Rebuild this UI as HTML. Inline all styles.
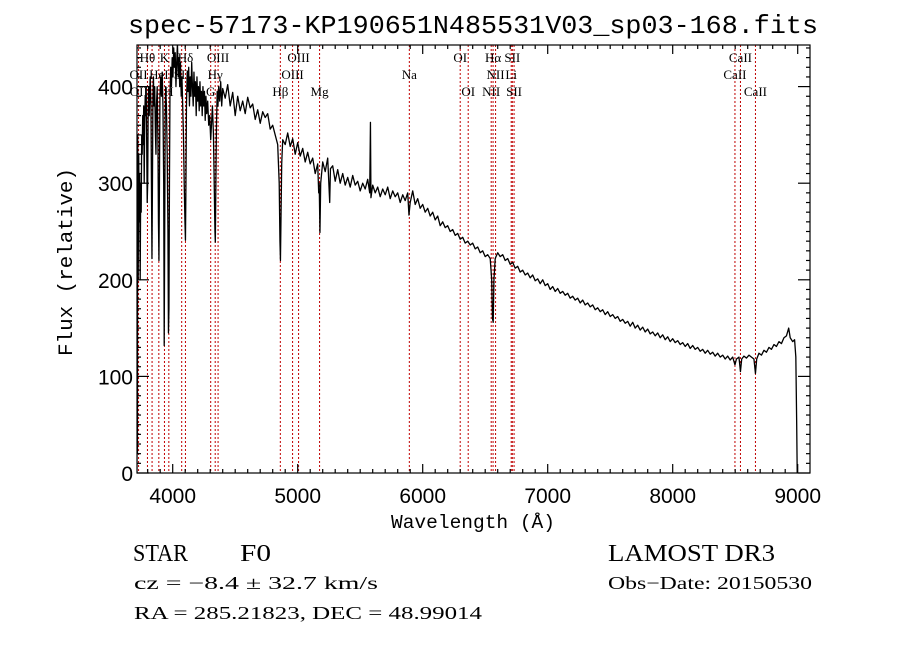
<!DOCTYPE html>
<html><head><meta charset="utf-8">
<style>
html,body{margin:0;padding:0;background:#fff;}
svg{display:block;}
</style></head>
<body>
<svg id="chart" width="900" height="649" viewBox="0 0 900 649" xmlns="http://www.w3.org/2000/svg">
<defs><clipPath id="plotclip"><rect x="137" y="45" width="673" height="428"/></clipPath></defs>
<rect x="0" y="0" width="900" height="649" fill="#fff"/>
<text x="473" y="33" font-family="Liberation Mono, monospace" font-size="26" text-anchor="middle" textLength="690" lengthAdjust="spacingAndGlyphs">spec-57173-KP190651N485531V03_sp03-168.fits</text>
<g id="lines"></g>
<g id="labels"></g>
<g id="spec" clip-path="url(#plotclip)"></g>
<g id="axes"></g>
<text x="473" y="528" font-family="Liberation Mono, monospace" font-size="19" text-anchor="middle" textLength="164" lengthAdjust="spacingAndGlyphs">Wavelength (Å)</text>
<text x="0" y="0" transform="translate(72,262) rotate(-90)" font-family="Liberation Mono, monospace" font-size="20" text-anchor="middle" textLength="188" lengthAdjust="spacingAndGlyphs">Flux (relative)</text>
<text x="133" y="561" font-family="Liberation Serif, serif" font-size="24" textLength="55" lengthAdjust="spacingAndGlyphs">STAR</text>
<text x="240" y="561" font-family="Liberation Serif, serif" font-size="24" textLength="31" lengthAdjust="spacingAndGlyphs">F0</text>
<text x="608" y="561" font-family="Liberation Serif, serif" font-size="24" textLength="167" lengthAdjust="spacingAndGlyphs">LAMOST DR3</text>
<text x="134" y="589" font-family="Liberation Serif, serif" font-size="18" textLength="244" lengthAdjust="spacingAndGlyphs">cz = −8.4 ± 32.7 km/s</text>
<text x="608" y="589" font-family="Liberation Serif, serif" font-size="18" textLength="204" lengthAdjust="spacingAndGlyphs">Obs−Date: 20150530</text>
<text x="134" y="619" font-family="Liberation Serif, serif" font-size="18" textLength="348" lengthAdjust="spacingAndGlyphs">RA = 285.21823, DEC =  48.99014</text>
</svg>
<script>
const waves = [3714,3716,3718,3720,3724,3728,3732,3736,3740,3744,3748,3752,3756,3760,3764,3768,3772,3776,3780,3784,3788,3792,3796,3800,3804,3808,3812,3816,3820,3826,3830,3834,3838,3842,3846,3850,3856,3862,3866,3870,3876,3882,3886,3890,3894,3898,3904,3910,3916,3922,3928,3932,3936,3940,3944,3950,3956,3962,3966,3970,3974,3978,3984,3990,3996,4002,4008,4014,4020,4026,4032,4038,4044,4050,4056,4062,4068,4074,4080,4086,4092,4098,4102,4106,4110,4116,4122,4128,4134,4140,4146,4152,4158,4164,4170,4176,4182,4188,4194,4200,4206,4212,4218,4224,4230,4236,4242,4248,4254,4260,4266,4272,4280,4288,4296,4304,4310,4318,4326,4332,4338,4341,4344,4350,4356,4362,4368,4376,4384,4392,4400,4420,4440,4460,4480,4500,4520,4540,4560,4580,4600,4620,4640,4660,4680,4700,4720,4740,4760,4780,4800,4820,4840,4852,4858,4862,4866,4872,4880,4900,4920,4940,4960,4980,5000,5020,5040,5060,5080,5100,5120,5140,5160,5168,5172,5178,5184,5200,5220,5240,5256,5262,5280,5300,5320,5340,5360,5380,5400,5420,5440,5460,5480,5500,5520,5540,5560,5576,5582,5586,5600,5620,5640,5660,5680,5700,5720,5740,5760,5780,5800,5820,5840,5860,5880,5890,5900,5920,5940,5960,5980,6000,6020,6040,6060,6080,6100,6120,6140,6160,6180,6200,6220,6240,6260,6280,6300,6320,6340,6360,6380,6400,6420,6440,6460,6480,6500,6520,6540,6552,6558,6564,6570,6580,6600,6620,6640,6660,6680,6700,6720,6740,6760,6780,6800,6820,6840,6860,6880,6900,6920,6940,6960,6980,7000,7020,7040,7060,7080,7100,7120,7140,7160,7180,7200,7220,7240,7260,7280,7300,7320,7340,7360,7380,7400,7420,7440,7460,7480,7500,7520,7540,7560,7580,7600,7620,7640,7660,7680,7700,7720,7740,7760,7780,7800,7820,7840,7860,7880,7900,7920,7940,7960,7980,8000,8020,8040,8060,8080,8100,8120,8140,8160,8180,8200,8220,8240,8260,8280,8300,8320,8340,8360,8380,8400,8420,8440,8460,8480,8498,8510,8530,8542,8552,8570,8590,8610,8630,8650,8662,8672,8690,8710,8730,8750,8770,8790,8810,8830,8850,8870,8890,8910,8928,8940,8960,8975,8985,8992,8996];
const fluxes = [0,150,20,350,200,330,260,310,200,300,270,350,330,370,340,380,300,360,390,370,400,340,280,300,380,400,370,390,410,380,300,222,300,390,410,380,400,350,330,380,400,340,260,220,300,390,410,390,415,380,300,132,250,370,400,380,330,250,145,170,300,390,420,400,430,410,440,420,435,400,425,445,410,430,400,425,390,410,380,350,300,260,241,300,380,415,395,420,380,410,390,425,400,380,415,390,405,370,410,385,400,375,405,380,395,370,400,380,395,365,390,372,385,360,370,345,360,380,350,300,250,239,280,360,395,380,400,385,405,380,398,388,402,380,394,370,390,375,385,372,389,378,382,366,376,362,374,368,372,356,360,350,340,300,240,220,260,320,345,340,352,338,346,330,342,328,336,322,332,320,326,310,320,290,300,249,300,322,312,326,280,315,318,302,314,300,310,298,306,296,308,298,302,292,300,294,304,290,363,285,298,290,296,286,294,288,296,284,292,286,290,280,288,282,290,267,280,292,278,284,274,278,270,274,266,270,262,266,256,260,254,256,250,252,246,248,242,244,238,240,236,238,232,234,228,230,224,226,222,200,160,156,200,222,228,224,226,220,222,216,218,212,214,208,210,205,207,202,205,199,201,196,200,194,196,190,193,188,191,186,188,184,186,181,183,179,181,176,179,174,176,172,174,169,171,167,169,164,167,162,164,160,162,157,159,155,157,152,156,150,153,148,151,146,149,144,146,142,145,140,143,138,141,136,139,135,137,133,135,131,134,129,132,128,130,126,128,124,127,123,125,121,124,120,122,118,121,117,120,112,118,120,105,118,121,119,122,120,118,103,118,124,122,127,125,130,128,133,131,136,134,140,142,150,140,136,138,120,50,0];
const lineWaves = [3727,3798,3835,3889,3934,3969,4072,4102,4304,4340,4363,4861,4959,5007,5175,5893,6300,6364,6548,6563,6583,6708,6717,6731,8498,8542,8662];
const labelNames = ["OII","Hθ","HeI","K","H","SII","Hδ","G","Hγ","OIII","Hβ","OIII","OIII","Mg","Na","OI","OI","NII","Hα","NII","Li","SII","SII","CaII","CaII","CaII","OII"];
const labelWaves = [3727,3798,3889,3934,3969,4072,4102,4304,4340,4363,4861,4959,5007,5175,5893,6300,6364,6548,6563,6583,6708,6717,6731,8498,8542,8662,3729];
const labelRows = [2,1,2,1,3,2,1,3,2,1,3,2,1,3,2,1,3,3,1,2,2,1,3,2,1,3,3];
const xTickLabels = ["4000","5000","6000","7000","8000","9000"];
const yTickLabels = ["0","100","200","300","400"];

const NS = "http://www.w3.org/2000/svg";
const PL = 137, PR = 810, PT = 45, PB = 473;
function xScale(w){ return 172.7 + (w - 4000) * 0.125; }
function yScale(v){ return 473 - v * 0.966; }
const X0 = 4000 - (172.7 - PL) / 0.125, X1 = 4000 + (PR - 172.7) / 0.125;

const gLines = document.getElementById('lines');
lineWaves.forEach(w => {
  const l = document.createElementNS(NS, 'line');
  const x = xScale(w);
  l.setAttribute('x1', x); l.setAttribute('x2', x);
  l.setAttribute('y1', PT); l.setAttribute('y2', PB);
  l.setAttribute('stroke', '#c00000'); l.setAttribute('stroke-width', '1');
  l.setAttribute('stroke-dasharray', '2,2');
  
  
  gLines.appendChild(l);
});

const gLabels = document.getElementById('labels');
const rowY = {1: 62, 2: 79, 3: 96};
labelNames.forEach((n, i) => {
  const t = document.createElementNS(NS, 'text');
  t.setAttribute('x', xScale(labelWaves[i]));
  t.setAttribute('y', rowY[labelRows[i]]);
  t.setAttribute('text-anchor', 'middle');
  t.setAttribute('font-family', 'Liberation Serif, serif');
  t.setAttribute('font-size', '13');
  t.textContent = n;
  
  
  gLabels.appendChild(t);
});

const gSpec = document.getElementById('spec');
let d = '';
waves.forEach((w, i) => { d += (i ? 'L' : 'M') + xScale(w).toFixed(2) + ',' + yScale(fluxes[i]).toFixed(2); });
const p = document.createElementNS(NS, 'path');
p.setAttribute('d', d);
p.setAttribute('fill', 'none'); p.setAttribute('stroke', '#000'); p.setAttribute('stroke-width', '1.3');
p.setAttribute('stroke-linejoin', 'round');


gSpec.appendChild(p);

const gAxes = document.getElementById('axes');
function addLine(x1, y1, x2, y2, name){
  const l = document.createElementNS(NS, 'line');
  l.setAttribute('x1', x1); l.setAttribute('y1', y1); l.setAttribute('x2', x2); l.setAttribute('y2', y2);
  l.setAttribute('stroke', '#000'); l.setAttribute('stroke-width', '1.2');
  
  
  gAxes.appendChild(l);
}
const box = document.createElementNS(NS, 'rect');
box.setAttribute('x', PL); box.setAttribute('y', PT); box.setAttribute('width', PR - PL); box.setAttribute('height', PB - PT);
box.setAttribute('fill', 'none'); box.setAttribute('stroke', '#000'); box.setAttribute('stroke-width', '1.2');


gAxes.appendChild(box);

for (let w = 3800; w <= X1; w += 100) {
  if (w < X0) continue;
  const major = w % 1000 === 0, len = major ? 9 : 4, x = xScale(w);
  addLine(x, PB, x, PB - len, 'x-tick');
  addLine(x, PT, x, PT + len, 'x-tick-top');
}
for (let v = 0; v <= 440; v += 10) {
  const major = v % 100 === 0, len = major ? 12 : 4, y = yScale(v);
  addLine(PL, y, PL + len, y, 'y-tick');
  addLine(PR, y, PR - len, y, 'y-tick-right');
}
xTickLabels.forEach(s => {
  const t = document.createElementNS(NS, 'text');
  t.setAttribute('x', xScale(+s)); t.setAttribute('y', 503);
  t.setAttribute('text-anchor', 'middle');
  t.setAttribute('font-family', 'Liberation Sans, sans-serif'); t.setAttribute('font-size', '21');
  t.textContent = s;
  
  
  gAxes.appendChild(t);
});
yTickLabels.forEach(s => {
  const t = document.createElementNS(NS, 'text');
  t.setAttribute('x', 133); t.setAttribute('y', yScale(+s) + 8);
  t.setAttribute('text-anchor', 'end');
  t.setAttribute('font-family', 'Liberation Sans, sans-serif'); t.setAttribute('font-size', '21');
  t.textContent = s;
  
  
  gAxes.appendChild(t);
});
</script>
</body></html>
